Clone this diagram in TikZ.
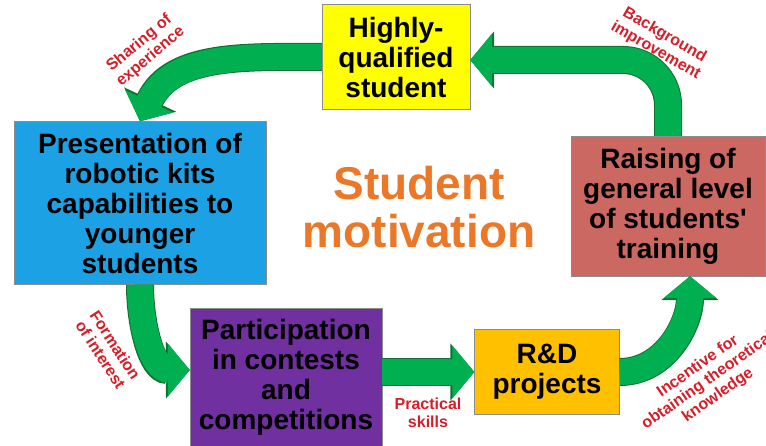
\documentclass[tikz,border=0pt]{standalone}
\usepackage{fontspec}
\setmainfont{Liberation Sans}[Ligatures=TeXOff]
\usetikzlibrary{arrows.meta, positioning}

\definecolor{hqyellow}{RGB}{255,255,0}
\definecolor{presblue}{RGB}{28,162,228}
\definecolor{partpurple}{RGB}{112,48,160}
\definecolor{rdgold}{RGB}{255,192,0}
\definecolor{raissalmon}{RGB}{204,104,98}
\definecolor{motivorange}{RGB}{234,120,40}
\definecolor{flowgreen}{RGB}{0,176,80}
\definecolor{flowline}{RGB}{20,110,50}
\definecolor{lblred}{RGB}{214,30,40}

\begin{document}
\begin{tikzpicture}[x=1pt, y=-1pt,
                box/.style={rectangle, draw=black!45, align=center, inner sep=0pt,
                            font=\fontsize{28}{30}\selectfont\bfseries},
                flow/.style={line width=26pt, draw=flowgreen, -{Triangle[width=52pt,length=22pt]},
                             preaction={draw=flowline, line width=28pt, -{Triangle[width=56pt,length=24pt]}}},
                lbl/.style={text=lblred, align=center, font=\fontsize{16}{17.5}\selectfont\bfseries}]
                \useasboundingbox (0,0) rectangle (766,446);

                \node[box, fill=hqyellow, minimum width=148pt, minimum height=105pt] (hq) at (396,57) {Highly-\\qualified\\student};
                \node[box, fill=presblue, minimum width=252pt, minimum height=163pt] (pres) at (140,203) {Presentation of\\robotic kits\\capabilities to\\younger\\students};
                \node[box, fill=partpurple, minimum width=192pt, minimum height=138pt] (part) at (286,377) {Participation\\in contests\\and\\competitions};
                \node[box, fill=rdgold, minimum width=145pt, minimum height=85pt] (rd) at (547,372) {R\&D\\projects};
                \node[box, fill=raissalmon, minimum width=194pt, minimum height=140pt] (rais) at (668,206) {Raising of\\general level\\of students'\\training};
                \node[text=motivorange, align=center, font=\fontsize{46}{48}\selectfont\bfseries] (motiv) at (419,207) {Student\\motivation};

                \draw[flow] (hq.west) to[out=180, in=65] (pres.north);
                \draw[flow] (pres.south) to[out=-90, in=180] ([yshift=7pt]part.west);
                \draw[flow] (part.east |- rd.west) -- (rd.west);
                \draw[flow] (rd.east) to[out=0, in=-90] ([xshift=22pt]rais.south);
                \draw[flow, rounded corners=45pt] (rais.north) |- ([yshift=-3pt]hq.east);

                \node[lbl, rotate=40] (share) at (145,50) {Sharing of\\experience};
                \node[lbl, rotate=-30] (backgr) at (660,43) {Background\\improvement};
                \node[lbl, rotate=-57] (form) at (108,350) {Formation\\of interest};
                \node[lbl] (pract) at (428,413) {Practical\\skills};
                \node[lbl, rotate=35] (incent) at (708,381) {Incentive for\\obtaining theoretical\\knowledge};
            \end{tikzpicture}
\end{document}
